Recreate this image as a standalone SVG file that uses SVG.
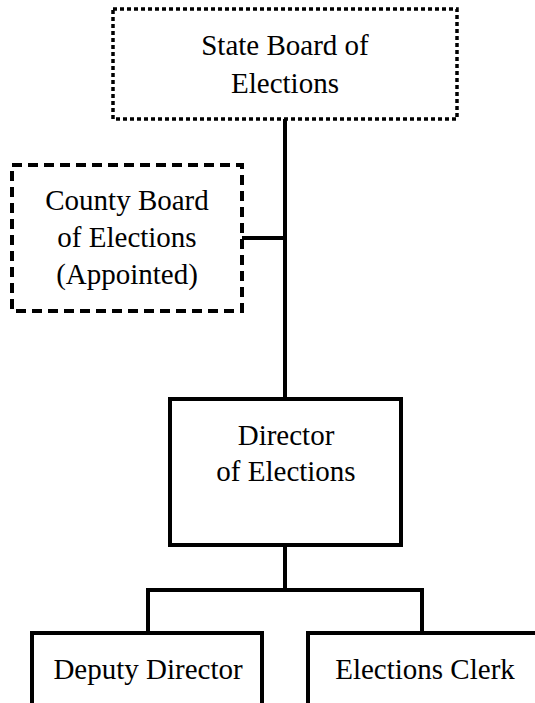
<svg xmlns="http://www.w3.org/2000/svg" width="535" height="703" viewBox="0 0 535 703">
  <style>
    .box { fill: #ffffff; stroke: #000000; stroke-width: 4; }
    .dotted { stroke-width: 3.5; stroke-dasharray: 4 3; }
    .dashed { stroke-dasharray: 10 6; }
    .conn { fill: none; stroke: #000000; stroke-width: 4; }
    text { font-family: "Liberation Serif", "Times New Roman", serif; font-size: 29px; fill: #000000; text-anchor: middle; }
  </style>
  <rect width="535" height="703" fill="#ffffff"/>
  <g id="connectors">
    <path class="conn" d="M285 119 V399"/>
    <path class="conn" d="M242 238 H285"/>
    <path class="conn" d="M285 545 V590"/>
    <path class="conn" d="M148 632 V590 H422 V632"/>
  </g>
  <g id="state-board">
    <rect class="box dotted" x="113" y="9" width="344" height="110"/>
    <text x="285" y="55">State Board of</text>
    <text x="285" y="93">Elections</text>
  </g>
  <g id="county-board">
    <rect class="box dashed" x="12" y="165" width="230" height="146"/>
    <text x="127" y="210">County Board</text>
    <text x="127" y="247">of Elections</text>
    <text x="127" y="284">(Appointed)</text>
  </g>
  <g id="director">
    <rect class="box" x="170" y="399" width="231" height="146"/>
    <text x="286" y="445">Director</text>
    <text x="286" y="481">of Elections</text>
  </g>
  <g id="deputy-director">
    <rect class="box" x="32" y="633" width="230" height="90"/>
    <text x="148" y="679">Deputy Director</text>
  </g>
  <g id="elections-clerk">
    <rect class="box" x="308" y="633" width="240" height="90"/>
    <text x="425" y="679">Elections Clerk</text>
  </g>
</svg>
